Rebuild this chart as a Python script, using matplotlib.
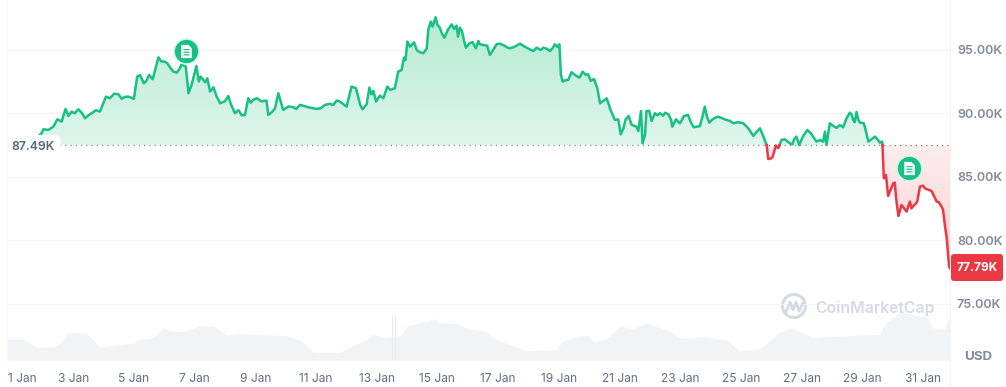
#!/usr/bin/env python
"""Price chart for January with baseline fill and volume strip."""

import numpy as np
import matplotlib
matplotlib.use("Agg")
import matplotlib.pyplot as plt
from matplotlib.lines import Line2D
from matplotlib.patches import Circle, FancyBboxPatch
from matplotlib.path import Path
from matplotlib.transforms import IdentityTransform, ScaledTranslation

plt.rcParams["font.family"] = ["Inter", "DejaVu Sans"]

# day of month (fractional), price in thousands
days = [
    0.82, 1.2, 1.5, 1.75, 1.96, 2.02, 2.18, 2.35, 2.48, 2.62, 2.75, 2.84, 2.95, 3.17, 3.39, 3.61, 3.88,
    4.08, 4.21, 4.49, 4.60, 4.82, 5.00, 5.11, 5.20, 5.33, 5.50, 5.62, 5.81, 6.02, 6.19, 6.41, 6.57,
    6.71, 6.80, 6.90, 7.06, 7.14, 7.29, 7.42, 7.51, 7.62, 7.73, 7.84, 8.11, 8.33, 8.66, 8.77, 8.93,
    9.37, 9.43, 9.65, 9.76, 9.92, 10.25, 10.47, 11.02, 11.30, 11.57, 11.68, 11.79, 12.01, 12.17, 12.32,
    12.45, 12.53, 12.67, 12.76, 12.83, 12.89, 12.98, 13.11, 13.22, 13.35, 13.60, 13.71, 13.82, 13.90,
    13.95, 14.01, 14.10, 14.23, 14.32, 14.54, 14.65, 14.70, 14.78, 14.84, 14.94, 15.08, 15.23, 15.47,
    15.55, 15.63, 15.68, 15.74, 15.81, 15.94, 16.07, 16.16, 16.27, 16.35, 16.51, 16.64, 16.73, 16.95,
    17.06, 17.39, 17.72, 18.16, 18.27, 18.49, 18.71, 18.87, 19.02, 19.07, 19.13, 19.31, 19.42, 19.68,
    19.79, 19.97, 20.05, 20.16, 20.27, 20.36, 20.58, 20.85, 20.96, 21.04, 21.13, 21.30, 21.40, 21.56,
    21.62, 21.71, 21.76, 21.84, 21.89, 21.98, 22.06, 22.17, 22.33, 22.44, 22.61, 22.74, 22.86, 22.99,
    23.12, 23.26, 23.45, 23.65, 23.81, 23.96, 24.25, 24.64, 24.75, 25.08, 25.41, 25.63, 25.85, 25.90,
    26.01, 26.15, 26.23, 26.34, 26.61, 26.83, 26.92, 27.19, 27.49, 27.71, 27.77, 27.82, 27.93, 28.26,
    28.37, 28.59, 28.70, 28.81, 28.92, 29.05, 29.20, 29.42, 29.58, 29.66, 29.71, 29.78, 29.85, 30.02,
    30.07, 30.19, 30.29, 30.46, 30.57, 30.68, 30.81, 30.90, 31.06, 31.28, 31.45, 31.61, 31.72, 31.86,
    31.89,
]
prices = [
    87.49, 87.6, 87.8, 88.0, 88.43, 88.75, 88.69, 88.96, 89.53, 89.35, 90.35, 89.80, 90.14, 90.32, 89.61, 90.01, 90.14,
    91.32, 91.19, 91.51, 91.14, 91.32, 91.14, 92.90, 93.03, 92.37, 93.03, 92.69, 94.42, 94.08, 93.64, 93.21, 93.87,
    93.69, 91.59, 92.24, 93.74, 92.51, 92.64, 92.77, 91.72, 92.06, 91.32, 90.80, 91.37, 90.01, 89.88, 91.19, 91.06,
    91.01, 89.88, 90.40, 91.59, 90.27, 90.48, 90.67, 90.35, 90.67, 90.67, 91.01, 90.93, 90.53, 92.11, 91.98,
    90.72, 90.32, 90.72, 92.03, 91.50, 91.77, 90.93, 91.40, 91.19, 92.11, 91.98, 93.29, 93.42, 94.40,
    94.21, 95.66, 95.26, 95.60, 95.00, 94.74, 95.13, 96.58, 97.24, 96.84, 97.58, 96.76, 95.97, 97.02,
    96.66, 96.92, 96.05, 96.76, 96.50, 95.18, 95.55, 95.61, 95.13, 95.71, 95.39, 95.34, 94.61, 95.45,
    95.50, 95.13, 95.50, 94.92, 95.18, 95.18, 94.92, 95.45, 95.45, 93.03, 92.50, 92.64, 93.24, 92.82,
    93.29, 93.08, 92.56, 92.71, 91.98, 90.79, 91.19, 89.48, 89.53, 88.35, 88.82, 89.80, 89.09, 88.95,
    88.61, 90.19, 87.64, 88.30, 90.19, 90.19, 89.40, 90.01, 90.01, 89.82, 89.93, 88.95, 89.53, 89.22,
    89.79, 89.87, 88.90, 89.00, 90.53, 89.27, 89.74, 89.40, 89.22, 89.22, 88.22, 88.82, 87.51, 86.40,
    86.46, 87.46, 87.25, 87.90, 87.64, 88.17, 87.51, 88.69, 87.77, 87.77, 88.56, 87.51, 89.22, 89.08,
    88.90, 90.06, 89.48, 90.11, 89.27, 89.22, 87.77, 88.17, 87.69, 87.77, 84.88, 85.14, 83.49, 84.48,
    84.54, 81.91, 82.78, 82.25, 83.04, 82.70, 83.04, 84.22, 84.09, 83.88, 83.04, 82.65, 81.20, 77.91,
    77.79,
]
# smaller wiggles read in a second pass
detail_days = [
    3.05, 3.3, 3.5, 3.75, 4.35, 4.7, 4.9, 5.42, 5.9, 6.1, 6.3, 6.5, 7.2, 7.35, 8.0, 8.2, 8.45, 8.55,
    8.85, 9.05, 9.2, 9.55, 10.1, 10.35, 10.65, 10.8, 11.15, 11.45,
    13.05, 13.45, 14.4, 15.0, 15.15, 15.35, 15.88, 16.4, 16.85, 17.2, 17.3, 17.55, 17.85, 18.0, 18.4,
    18.6, 18.8, 18.95, 19.2, 19.55, 19.88, 20.7, 21.2,
    22.25, 22.5, 22.7, 23.05, 23.35, 23.55, 23.73, 23.88, 24.05, 24.15, 24.4, 24.5, 24.9, 25.25, 25.5, 25.72,
    26.05, 26.45, 26.7, 26.76, 27.05, 27.3, 27.6, 28.05, 28.15, 28.48, 28.65, 28.75, 28.87, 29.12, 29.3, 29.5,
    30.12, 30.24, 30.38, 30.52, 30.62, 30.75, 31.0, 31.15, 31.38, 31.52, 31.66, 31.78,
]
detail_prices = [
    90.0, 90.0, 89.85, 90.25, 91.55, 91.3, 91.25, 92.6, 94.1, 93.95, 93.3, 93.5, 92.9, 92.45, 90.95, 90.7, 90.25, 89.85,
    90.85, 91.2, 90.95, 90.1, 90.55, 90.35, 90.55, 90.45, 90.4, 90.75,
    91.2, 91.85, 94.85, 97.0, 96.3, 96.6, 95.7, 95.45, 95.05, 95.35, 95.2, 95.25, 95.3, 95.1, 95.0,
    95.1, 95.15, 95.25, 92.6, 93.0, 93.05, 90.3, 89.5,
    89.85, 90.05, 89.5, 89.45, 89.3, 88.95, 89.7, 89.75, 89.5, 89.65, 89.6, 89.5, 89.3, 88.8, 88.5, 88.3,
    86.6, 87.95, 87.55, 88.0, 88.2, 88.45, 87.9, 89.0, 88.85, 89.6, 89.9, 89.3, 89.5, 88.6, 87.95, 87.95,
    83.2, 82.3, 82.5, 82.7, 82.5, 82.85, 84.3, 84.0, 83.4, 83.0, 82.4, 80.2,
]
base_price = 87.49
last_price = 77.79

volume_days = [
    0.81, 1.36, 1.58, 1.85, 2.40, 2.62, 2.84, 3.44, 3.66, 3.88, 4.43, 4.98, 5.15, 5.59, 5.97, 6.19, 6.63,
    7.18, 7.62, 8.06, 8.39, 9.26, 10.03, 10.47, 10.91, 11.79, 12.23, 12.67, 12.89, 13.22, 13.77, 14.04,
    14.65, 14.87, 15.03, 15.63, 15.96, 16.62, 16.84, 17.06, 17.61, 17.94, 18.93, 19.09, 19.59, 20.0,
    20.14, 20.57, 21.01, 21.45, 21.89, 22.66, 22.99, 23.87, 24.53, 24.97, 25.63, 26.29, 26.67, 27.38,
    28.04, 29.58, 29.75, 30.24, 31.12, 31.34, 31.72, 31.83, 31.89,
]
volumes = [
    20.7, 20.7, 16.7, 12.3, 13.3, 18.3, 27.7, 26.7, 20, 13.3, 15, 16.7, 20.7, 21.7, 32.3, 29, 28.3,
    34.3, 34.3, 25, 26.7, 25, 24.3, 20, 7.7, 7.7, 15, 20, 25.7, 22.3, 24.3, 35,
    38.3, 41.7, 36.7, 36.7, 31.7, 28.3, 21.7, 19, 13, 9.3, 10, 18, 23.7, 24.7,
    18, 21.3, 34, 31.3, 37, 28.7, 22, 23, 19.7, 9, 11.3, 28, 32.3, 22.3,
    23.7, 25.7, 36.3, 48, 43, 32, 30.7, 41.3, 43,
]
spike_days = [13.5, 13.6]
spike_volumes = [45, 45]

price_ticks = [75, 80, 85, 90, 95]
price_labels = ["75.00K", "80.00K", "85.00K", "90.00K", "95.00K"]
day_ticks = list(range(1, 32, 2))
day_labels = [f"{d} Jan" for d in day_ticks]
note_days = [6.72, 30.54]
note_prices = [94.92, 85.69]

GREEN = "#18c084"
RED = "#ea3943"
GRID = "#f3f5f8"
GREY = "#808a9d"

W, H = 1006, 387
LEFT, RIGHT, BOTTOM = 7, 950, 360
LEFT_D, RIGHT_D = 0.82, 31.89


def split_at_base(x, y, base):
    # add a point wherever the line crosses the baseline
    xs, ys = [x[0]], [y[0]]
    for i in range(1, len(x)):
        if (y[i - 1] - base) * (y[i] - base) < 0:
            f = (base - y[i - 1]) / (y[i] - y[i - 1])
            xs.append(x[i - 1] + f * (x[i] - x[i - 1]))
            ys.append(base)
        xs.append(x[i])
        ys.append(y[i])
    return np.array(xs), np.array(ys)


def gradient_image(ax, poly, top, bottom, c_top, c_bottom):
    grad = np.linspace(0, 1, 256)[:, None, None]
    c0 = np.array(matplotlib.colors.to_rgb(c_top))
    c1 = np.array(matplotlib.colors.to_rgb(c_bottom))
    img = ax.imshow(c0 + (c1 - c0) * grad, extent=(LEFT_D, RIGHT_D, bottom, top), origin="upper",
                    aspect="auto", zorder=2)
    img.set_clip_path(poly)
    poly.remove()


def doc_marker():
    # page outline with the three text lines cut out
    verts = [(-4, -5), (4, -5), (4, 2.5), (1.5, 5), (-4, 5), (-4, -5)]
    codes = [Path.MOVETO] + [Path.LINETO] * 4 + [Path.CLOSEPOLY]
    for yy in (-3, -1, 1):
        verts += [(-2.3, yy), (-2.3, yy + 0.9), (2.3, yy + 0.9), (2.3, yy), (-2.3, yy)]
        codes += [Path.MOVETO] + [Path.LINETO] * 3 + [Path.CLOSEPOLY]
    return Path(verts, codes)


def main():
    fig = plt.figure(figsize=(W / 100, H / 100), dpi=100)
    rect = [LEFT / W, 1 - BOTTOM / H, (RIGHT - LEFT) / W, BOTTOM / H]

    # volume strip sits behind the price axes, heights in its own units
    vol = fig.add_axes(rect, zorder=0)
    vol.set_xlim(LEFT_D, RIGHT_D)
    vol.set_ylim(0, BOTTOM)
    vol.axis("off")
    vol.fill_between(volume_days, volumes, 0, color="#f1f3f6", lw=0)
    vol.vlines(spike_days, 0, spike_volumes, color="#e8ebf0", lw=0.7)

    ax = fig.add_axes(rect, zorder=1)
    ymin, ymax = 70.55, 98.94
    ax.patch.set_visible(False)
    for s in ax.spines.values():
        s.set_visible(False)
    fig.add_artist(Line2D([LEFT / W, LEFT / W], [1 - BOTTOM / H, 1], color=GRID, lw=0.8))
    fig.add_artist(Line2D([RIGHT / W, RIGHT / W], [0, 1], color=GRID, lw=0.8))
    ax.axhline(ymin, color=GRID, lw=0.8, zorder=1)

    ax.yaxis.tick_right()
    ax.set_yticks(price_ticks, price_labels)
    ax.tick_params(axis="y", length=0, pad=5, labelsize=9.0, labelcolor=GREY)
    for t in ax.get_yticklabels():
        t.set_fontweight(600)
    ax.set_xticks(day_ticks, day_labels)
    ax.tick_params(axis="x", length=0, pad=9, labelsize=8.6, labelcolor="#616e85")
    first = ax.get_xticklabels()[0]
    first.set_ha("left")
    first.set_transform(first.get_transform() + ScaledTranslation(-4 / 100, 0, fig.dpi_scale_trans))
    ax.grid(axis="y", color=GRID, lw=0.8, zorder=1)
    ax.set_axisbelow(True)

    all_days = np.array(days + detail_days)
    all_prices = np.array(prices + detail_prices)
    order = np.argsort(all_days)
    x, y = split_at_base(all_days[order], all_prices[order], base_price)

    up = ax.fill_between(x, y, base_price, where=y >= base_price, lw=0)
    for p in up.get_paths():
        poly = ax.fill(p.vertices[:, 0], p.vertices[:, 1], lw=0)[0]
        gradient_image(ax, poly, 97.6, base_price, "#b5ebd2", "#dff6ec")
    up.remove()
    down = ax.fill_between(x, y, base_price, where=y <= base_price, lw=0)
    for p in down.get_paths():
        poly = ax.fill(p.vertices[:, 0], p.vertices[:, 1], lw=0)[0]
        gradient_image(ax, poly, base_price, 77.79, "#fdeeef", "#fbd0d4")
    down.remove()
    ax.set_xlim(LEFT_D, RIGHT_D)
    ax.set_ylim(ymin, ymax)

    ax.axhline(base_price, color="#7d8798", lw=0.9, ls=(0, (1, 3.2)), zorder=3)
    ax.plot(x, np.ma.masked_where(y < base_price, y), color=GREEN, lw=1.8, zorder=4, solid_joinstyle="round")
    ax.plot(x, np.ma.masked_where(y > base_price, y), color=RED, lw=1.8, zorder=4, solid_joinstyle="round")

    ax.plot(note_days, note_prices, "o", ms=18, mfc=GREEN, mec="#d7f5e8", mew=1.2, ls="none", zorder=6)
    ax.plot(note_days, note_prices, ls="none", marker=doc_marker(), ms=9.5, mfc="white", mec="none", zorder=7)

    ax.text(33 / W, 1 - 147 / H, "87.49K", transform=fig.transFigure, ha="center", va="center",
            fontsize=8.8, fontweight=600, color="#58667e", zorder=8,
            bbox=dict(boxstyle="round,pad=0.5", fc="white", ec="none", alpha=0.93))

    fig.add_artist(FancyBboxPatch((953, H - 279), 48, 23, boxstyle="round,pad=2,rounding_size=3",
                                  transform=IdentityTransform(), fc=RED, ec="none", zorder=5))
    fig.text(977 / W, 1 - 268 / H, f"{last_price:.2f}K", ha="center", va="center",
             fontsize=8.6, fontweight=700, color="white", zorder=6)
    fig.text(978 / W, 1 - 357 / H, "USD", ha="center", va="center", fontsize=9.6, fontweight=700, color=GREY)

    # watermark
    fig.add_artist(Circle((794, H - 306), 11.5, transform=IdentityTransform(), fc="none", ec="#d5dbe5", lw=2.2))
    fig.add_artist(Line2D([786, 790, 793, 796, 799, 803], [H - 312, H - 302, H - 310, H - 302, H - 311, H - 303],
                          transform=IdentityTransform(), color="#d5dbe5", lw=2))
    fig.text(815 / W, 1 - 308 / H, "CoinMarketCap", ha="left", va="center", fontsize=11.4, fontweight=600,
             color="#d5dbe5")

    fig.savefig("out.png", dpi=100, facecolor="white")


if __name__ == "__main__":
    main()
